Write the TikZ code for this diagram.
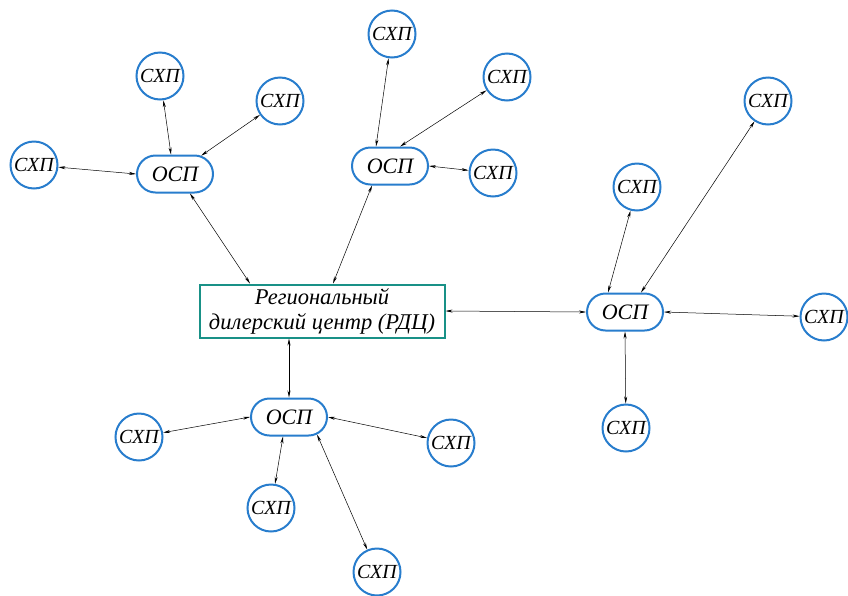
\documentclass[tikz,border=0pt]{standalone}
\usepackage{fontspec}
\setmainfont{Liberation Serif}
\usetikzlibrary{arrows.meta,shapes.misc}
\definecolor{cblue}{RGB}{40,125,205}
\definecolor{cteal}{RGB}{25,145,135}
\tikzset{
  farm/.style={circle,draw=cblue,line width=2pt,minimum size=47pt,inner sep=0pt,font=\fontsize{20}{22}\selectfont\itshape},
  osp/.style={rounded rectangle,draw=cblue,line width=2pt,minimum width=76pt,minimum height=37pt,inner sep=0pt,font=\fontsize{22}{24}\selectfont\itshape},
  centre/.style={rectangle,draw=cteal,line width=2pt,minimum width=245pt,minimum height=53pt,inner sep=0pt,align=center,font=\fontsize{22.5}{25}\selectfont\itshape},
  link/.style={line width=0.5pt,{Stealth[length=7pt,width=3pt]}-{Stealth[length=7pt,width=3pt]}}
}
\begin{document}
\begin{tikzpicture}[x=1pt,y=-1pt]
\useasboundingbox (0,0) rectangle (848,595);
\node[centre] (rdc) at (322,311) {Региональный\\дилерский центр (РДЦ)};
\node[osp] (o1) at (175,174) {ОСП};
\node[osp] (o2) at (390,166) {ОСП};
\node[osp] (o3) at (625,312) {ОСП};
\node[osp] (o4) at (289,417) {ОСП};
\node[farm] (s1) at (160,76) {СХП};
\node[farm] (s2) at (280,101) {СХП};
\node[farm] (s3) at (34,165) {СХП};
\node[farm] (s4) at (392,34) {СХП};
\node[farm] (s5) at (507,77) {СХП};
\node[farm] (s6) at (493,173) {СХП};
\node[farm] (s7) at (637,187) {СХП};
\node[farm] (s8) at (768,101) {СХП};
\node[farm] (s9) at (824,317) {СХП};
\node[farm] (s10) at (626,428) {СХП};
\node[farm] (s11) at (139,437) {СХП};
\node[farm] (s12) at (451,443) {СХП};
\node[farm] (s13) at (271,508) {СХП};
\node[farm] (s14) at (377,572) {СХП};
\draw[link] ([xshift=-72pt]rdc.north) -- ([xshift=15pt]o1.south);
\draw[link] ([xshift=11pt]rdc.north) -- ([xshift=-18pt]o2.south);
\draw[link] (rdc.east) -- (o3.west);
\draw[link] ([xshift=-33pt]rdc.south) -- (o4.north);
\draw[link] ([xshift=-4pt]o1.north) -- (s1);
\draw[link] (o1.35) -- (s2);
\draw[link] (o1.west) -- (s3);
\draw[link] ([xshift=-14pt]o2.north) -- (s4);
\draw[link] ([xshift=10pt]o2.north) -- (s5);
\draw[link] (o2.east) -- (s6);
\draw[link] ([xshift=-17pt]o3.north) -- (s7);
\draw[link] ([xshift=16pt]o3.north) -- (s8);
\draw[link] (o3.east) -- (s9);
\draw[link] (o3.south) -- (s10);
\draw[link] (o4.west) -- (s11);
\draw[link] (o4.east) -- (s12);
\draw[link] ([xshift=-6pt]o4.south) -- (s13);
\draw[link] (o4.-32) -- (s14);
\end{tikzpicture}
\end{document}
